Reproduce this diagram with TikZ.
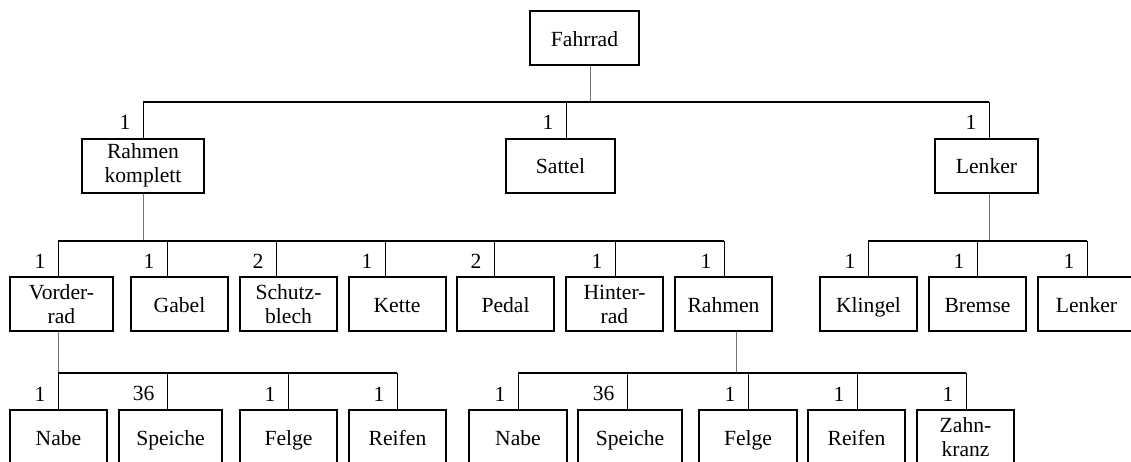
\documentclass[tikz,border=0pt]{standalone}
\usepackage{fontspec}
\setmainfont{Liberation Serif}
\usetikzlibrary{calc}

\begin{document}
\begin{tikzpicture}[x=0.5pt, y=-0.5pt,
        every node/.style={font=\fontsize{10.8}{12}\selectfont},
        part/.style={draw, line width=1pt, minimum height=27pt, minimum width=48.5pt, inner sep=1pt, align=center},
        one/.style={part, text height=0.86em, text depth=0.04em},
        bar/.style={line width=0.8pt},
        up/.style={line width=0.5pt, black!55},
        down/.style={line width=0.5pt},
        mult/.style={left, inner sep=0pt, xshift=-6pt, pos=0.42}]
    \useasboundingbox (0,0) rectangle (1131,461);
    \clip (0,0) rectangle (1131,461);

    % Ebene 0 und 1
    \node[one, minimum width=54.5pt] (f) at (584.5,38) {Fahrrad};
    \node[part, minimum width=61pt] (rk) at (143,165.5) {Rahmen\\komplett};
    \node[one, minimum width=54.5pt] (sa) at (560.5,165.5) {Sattel};
    \node[one, minimum width=51.5pt] (le) at (986.5,165.5) {Lenker};

    % Ebene 2
    \node[part, minimum width=51.5pt] (vr) at (61.5,304) {Vorder-\\rad};
    \node[one] (ga) at (179.5,304) {Gabel};
    \node[part] (sb) at (288.5,304) {Schutz-\\blech};
    \node[one] (ke) at (397,304) {Kette};
    \node[one] (pe) at (505.5,304) {Pedal};
    \node[part] (hr) at (614.5,304) {Hinter-\\rad};
    \node[one] (ra) at (723.5,304) {Rahmen};
    \node[one] (kl) at (868.5,304) {Klingel};
    \node[one] (br) at (977.5,304) {Bremse};
    \node[one] (lk) at (1086.5,304) {Lenker};

    % Ebene 3
    \node[one] (na1) at (58.5,437) {Nabe};
    \node[one, minimum width=51.5pt] (sp1) at (170.5,437) {Speiche};
    \node[one] (fe1) at (288.5,437) {Felge};
    \node[one] (re1) at (397.5,437) {Reifen};
    \node[one, minimum width=49pt] (na2) at (518,437) {Nabe};
    \node[one, minimum width=52pt] (sp2) at (630,437) {Speiche};
    \node[one, minimum width=49pt] (fe2) at (748,437) {Felge};
    \node[one] (re2) at (856.5,437) {Reifen};
    \node[part] (zk) at (965.5,437) {Zahn-\\kranz};

    % Anschlusspunkte oben (Kinder) und unten (Eltern)
    \foreach \n/\d in {rk/0, sa/5.5, le/2.5, vr/-3.5, ga/-12.5, sb/-12.5, ke/-12, pe/-11.5, hr/0.5, ra/0.5,
            kl/-0.5, br/-0.5, lk/0.5, na1/-0.5, sp1/-3.5, fe1/-0.5, re1/-0.5,
            na2/0, sp2/-3, fe2/0, re2/0.5, zk/0.5}
        \coordinate (t\n) at ($(\n.north)+(\d,0)$);
    \foreach \n/\d in {f/5.5, rk/0, le/2.5, vr/-3.5, ra/12.5}
        \coordinate (s\n) at ($(\n.south)+(\d,0)$);

    \coordinate (b1) at (0,102);
    \coordinate (b2) at (0,241);
    \coordinate (b3) at (0,373);

    % Fahrrad
    \draw[up] (sf) -- (sf |- b1);
    \draw[bar] (trk |- b1) -- (tle |- b1);
    \foreach \n/\m in {rk/1, sa/1, le/1}
        \draw[down] (t\n) -- (t\n |- b1) node[mult] {\m};

    % Rahmen komplett
    \draw[up] (srk) -- (srk |- b2);
    \draw[bar] (tvr |- b2) -- (tra |- b2);
    \foreach \n/\m in {vr/1, ga/1, sb/2, ke/1, pe/2, hr/1, ra/1}
        \draw[down] (t\n) -- (t\n |- b2) node[mult] {\m};

    % Lenker
    \draw[up] (sle) -- (sle |- b2);
    \draw[bar] (tkl |- b2) -- (tlk |- b2);
    \foreach \n/\m in {kl/1, br/1, lk/1}
        \draw[down] (t\n) -- (t\n |- b2) node[mult] {\m};

    % Vorderrad
    \draw[up] (svr) -- (svr |- b3);
    \draw[bar] (tna1 |- b3) -- (tre1 |- b3);
    \foreach \n/\m in {na1/1, sp1/36, fe1/1, re1/1}
        \draw[down] (t\n) -- (t\n |- b3) node[mult] {\m};

    % Rahmen
    \draw[up] (sra) -- (sra |- b3);
    \draw[bar] (tna2 |- b3) -- (tzk |- b3);
    \foreach \n/\m in {na2/1, sp2/36, fe2/1, re2/1, zk/1}
        \draw[down] (t\n) -- (t\n |- b3) node[mult] {\m};
\end{tikzpicture}
\end{document}
